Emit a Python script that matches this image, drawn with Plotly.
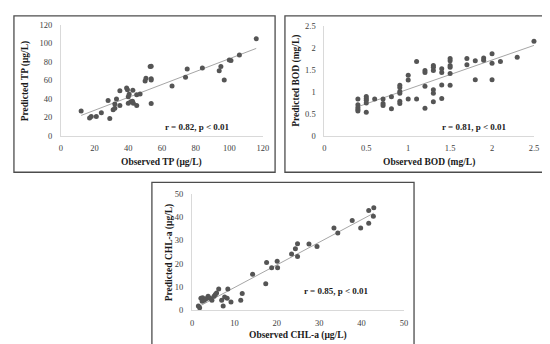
import numpy as np
import plotly.graph_objects as go

# ---------------- data ----------------
tp_obs = [12, 17, 18, 21, 24, 28, 29, 31, 32, 32, 33, 35, 35, 39, 39.5, 40, 40.5, 40,
          41.5, 42.5, 42.7, 43, 45, 45, 47, 50, 50.5, 53, 53.6, 53.6, 53.6, 53.6,
          66, 74, 75, 84, 94, 95, 97, 100, 101, 106, 116]
tp_pred = [27, 19.5, 21, 21, 25, 38.5, 19, 28.5, 30, 34.5, 40, 49, 33, 52, 50, 42.5, 45, 35.5,
           37, 37.5, 49.5, 35.5, 33, 44.5, 45.5, 59.5, 62.5, 75, 75.5, 62, 60.5, 35,
           54, 63.5, 72.5, 73.5, 70.5, 75, 60.5, 82, 81.5, 87.5, 105]

bod_obs = [0.4, 0.4, 0.4, 0.4, 0.4,
           0.5, 0.5, 0.5, 0.5, 0.5,
           0.6,
           0.7, 0.7, 0.7,
           0.8, 0.8,
           0.9, 0.9, 0.9, 0.9, 0.9, 0.9,
           1.0, 1.0, 1.0,
           1.1, 1.1,
           1.2, 1.2, 1.2, 1.2,
           1.3, 1.3, 1.3, 1.3, 1.3, 1.3,
           1.4, 1.4, 1.4, 1.4,
           1.5, 1.5, 1.5, 1.5, 1.5, 1.5,
           1.7, 1.7,
           1.8, 1.8,
           1.9, 1.9,
           2.0, 2.0, 2.0,
           2.1, 2.3, 2.5]
bod_pred = [0.84, 0.71, 0.65, 0.6, 0.57,
            0.9, 0.85, 0.81, 0.75, 0.54,
            0.84,
            0.84, 0.74, 0.69,
            0.89, 0.62,
            1.15, 1.1, 1.01, 0.97, 0.79, 0.74,
            1.38, 1.27, 0.84,
            1.69, 0.84,
            1.49, 1.44, 1.13, 0.63,
            1.6, 1.56, 1.49, 1.05, 0.97, 0.78,
            1.53, 1.44, 1.16, 0.85,
            1.76, 1.71, 1.6, 1.56, 1.42, 1.15,
            1.76, 1.62,
            1.71, 1.28,
            1.77, 1.72,
            1.87, 1.65, 1.28,
            1.69, 1.79, 2.15]

chl_obs = [1.5, 1.8, 2.1, 2.5, 2.4, 2.9, 3.3, 3.8, 4.25, 4.7, 5.2, 5.5, 5.8, 6.3, 7.0, 7.35,
           7.7, 8.3, 8.45, 9.2, 11.5, 11.85, 14.3, 17.4, 17.6, 18.8, 20.1, 20.2, 23.5, 24.4,
           24.9, 24.9, 27.6, 29.5, 33.5, 34.4, 37.8, 39.8, 41.7, 41.7, 42.8, 42.9]
chl_pred = [1.9, 1.1, 5.25, 5.4, 3.9, 4.4, 5.0, 6.1, 5.25, 4.4, 6.1, 6.8, 7.5, 9.2, 4.4, 1.9,
            5.8, 5.25, 9.2, 3.6, 4.4, 7.2, 15.5, 11.4, 20.5, 18.3, 21.1, 18.3, 24.2, 26.4,
            28.6, 23.1, 28.5, 27.4, 35.4, 33.2, 38.6, 35.4, 37.4, 42.9, 40.4, 44]

stats_text = ["r = 0.82, p < 0.01", "r = 0.81, p < 0.01", "r = 0.85, p < 0.01"]
x_titles = ["Observed TP (μg/L)", "Observed BOD (mg/L)", "Observed CHL-a (μg/L)"]
y_titles = ["Predicted TP (μg/L)", "Predicted BOD (mg/L)", "Predicted CHL-a (μg/L)"]

# ---------------- layout ----------------
W, H = 550, 344
SERIF = "Liberation Serif, Times New Roman, serif"


def px_x(p):
    return p / W


def px_y(p):
    return (H - p) / H


panels = [
    dict(obs=tp_obs, pred=tp_pred, rng=[0, 120], dtick=20,
         plot=(51.7, 256.7, 126.7, 12.3), frame=(4, 269, 3, 164),
         ytx=16, xty=154, ann=(190, 117)),
    dict(obs=bod_obs, pred=bod_pred, rng=[0, 2.5], dtick=0.5,
         plot=(319, 531.7, 126.7, 13.3), frame=(279, 545, 3, 164),
         ytx=291, xty=153.5, ann=(471.5, 117.3)),
    dict(obs=chl_obs, pred=chl_pred, rng=[0, 50], dtick=10,
         plot=(184.7, 399.7, 306.3, 186.3), frame=(144, 410, 174.5, 342.5),
         ytx=161.5, xty=332, ann=(331, 286.3)),
]

fig = go.Figure()
shapes = []
annotations = []

for i, p in enumerate(panels):
    n = "" if i == 0 else str(i + 1)
    xa, ya = "x" + n, "y" + n
    obs = np.array(p["obs"], dtype=float)
    pred = np.array(p["pred"], dtype=float)

    # linear trend line computed from the data
    k, b = np.polyfit(obs, pred, 1)
    xs = np.array([obs.min(), obs.max()])
    fig.add_trace(go.Scatter(x=xs, y=k * xs + b, mode="lines", xaxis=xa, yaxis=ya,
                             line=dict(color="#a6a6a6", width=1), cliponaxis=False,
                             showlegend=False, hoverinfo="skip"))
    fig.add_trace(go.Scatter(x=obs, y=pred, mode="markers", xaxis=xa, yaxis=ya,
                             marker=dict(size=5, color="#555555"), cliponaxis=False,
                             showlegend=False, hoverinfo="skip"))

    x0, x1, y0, y1 = p["plot"]
    axis_common = dict(range=p["rng"], dtick=p["dtick"], tick0=0, showgrid=False,
                       zeroline=False, showline=True, linecolor="#d9d9d9", linewidth=1,
                       ticks="", tickfont=dict(family=SERIF, size=8.5, color="#404040"),
                       fixedrange=True)
    fig.update_layout(**{
        "xaxis" + n: dict(axis_common, domain=[px_x(x0), px_x(x1)], anchor=ya,
                          ticklabelstandoff=4),
        "yaxis" + n: dict(axis_common, domain=[px_y(y0), px_y(y1)], anchor=xa,
                          ticklabelstandoff=6),
    })

    fl, fr, ft, fb = p["frame"]
    shapes.append(dict(type="rect", xref="paper", yref="paper",
                       x0=px_x(fl), x1=px_x(fr), y0=px_y(fb), y1=px_y(ft),
                       line=dict(color="#4d4d4d", width=1.3), fillcolor="rgba(0,0,0,0)"))

    annotations.append(dict(text="<b>" + x_titles[i] + "</b>", xref="paper", yref="paper",
                            x=px_x((x0 + x1) / 2), y=px_y(p["xty"]), showarrow=False,
                            xanchor="center", yanchor="middle",
                            font=dict(family=SERIF, size=9.5, color="#1a1a1a")))
    annotations.append(dict(text="<b>" + y_titles[i] + "</b>", xref="paper", yref="paper",
                            x=px_x(p["ytx"]), y=px_y((y0 + y1) / 2), showarrow=False,
                            textangle=-90, xanchor="center", yanchor="middle",
                            font=dict(family=SERIF, size=9.5, color="#1a1a1a")))
    annotations.append(dict(text="<b>" + stats_text[i] + "</b>", xref="paper", yref="paper",
                            x=px_x(p["ann"][0]), y=px_y(p["ann"][1]), showarrow=False,
                            xanchor="center", yanchor="middle",
                            font=dict(family=SERIF, size=9, color="#1a1a1a")))

fig.update_layout(width=W, height=H, margin=dict(l=0, r=0, t=0, b=0),
                  paper_bgcolor="white", plot_bgcolor="white",
                  shapes=shapes, annotations=annotations)

fig.write_html("out.html")
